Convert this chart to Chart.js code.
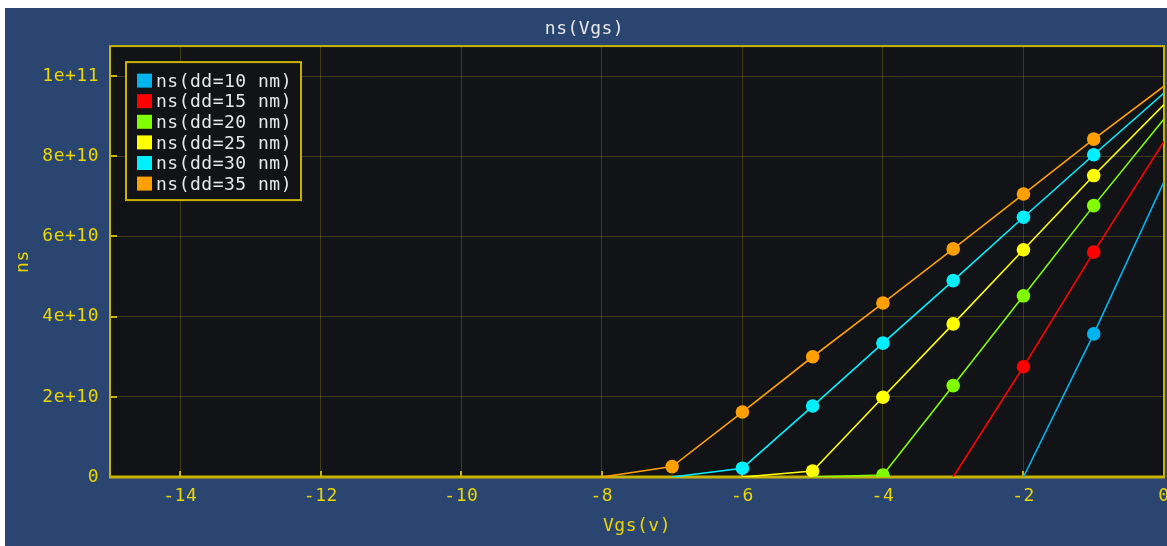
<!DOCTYPE html>
<html>
<head>
<meta charset="utf-8">
<title>ns(Vgs)</title>
<script src="https://cdn.jsdelivr.net/npm/chart.js@4/dist/chart.umd.min.js"></script>
<style>
  html, body { margin: 0; padding: 0; background: #ffffff; }
  #panel { position: absolute; left: 5px; top: 8px; width: 1162px; height: 538px; background: #2a4570; }
  canvas { display: block; }
</style>
</head>
<body>
<div id="panel"><canvas id="chart" width="1162" height="538"></canvas></div>
<script>
// Gate voltage samples (V) and sheet carrier density for each barrier thickness
const vgs   = [-8, -7, -6, -5, -4, -3, -2, -1, 0];
const ns10  = [null, null, null, null, null, null, 0, 3.57e10, 7.37e10];
const ns15  = [null, null, null, null, null, 0, 2.75e10, 5.61e10, 8.37e10];
const ns20  = [null, null, null, 0, 0.5e9, 2.28e10, 4.52e10, 6.77e10, 8.93e10];
const ns25  = [null, null, 0, 1.5e9, 1.99e10, 3.82e10, 5.67e10, 7.52e10, 9.29e10];
const ns30  = [null, 0, 2.2e9, 1.77e10, 3.34e10, 4.9e10, 6.48e10, 8.04e10, 9.58e10];
const ns35  = [0, 2.6e9, 1.62e10, 3.0e10, 4.34e10, 5.69e10, 7.06e10, 8.43e10, 9.75e10];

const seriesLabels = ['ns(dd=10 nm)', 'ns(dd=15 nm)', 'ns(dd=20 nm)', 'ns(dd=25 nm)', 'ns(dd=30 nm)', 'ns(dd=35 nm)'];
const seriesValues = [ns10, ns15, ns20, ns25, ns30, ns35];
const seriesColors = ['#00b4f0', '#ff0000', '#80ff00', '#ffff00', '#00f0ff', '#ffa000'];

const xTicks = [-14, -12, -10, -8, -6, -4, -2, 0];
const yTicks = [0, 2e10, 4e10, 6e10, 8e10, 1e11];

const FONT = "'DejaVu Sans Mono', 'Liberation Mono', monospace";
const FONT_SIZE = 18;
const TEXT_YELLOW = '#ecd600';
const FRAME_YELLOW = '#c8b400';
const PLOT_BG = '#121317';

const datasets = seriesValues.map((vals, i) => ({
  label: seriesLabels[i],
  data: vgs.map((x, k) => ({ x: x, y: vals[k] })).filter(p => p.y !== null),
  borderColor: seriesColors[i],
  backgroundColor: seriesColors[i],
  borderWidth: 1.6,
  pointBorderWidth: 0,
  pointRadius: c => (c.raw && (c.raw.y === 0 || c.raw.x === 0)) ? 0 : 6.8,
  tension: 0
}));

// monospace text spacing
const spacing = {
  id: 'spacing',
  beforeUpdate(chart) { chart.ctx.letterSpacing = '0.5px'; },
  beforeDraw(chart) { chart.ctx.letterSpacing = '0.5px'; }
};

// dark plotting field
const plotField = {
  id: 'plotField',
  beforeDraw(chart) {
    const a = chart.chartArea, ctx = chart.ctx;
    ctx.save();
    ctx.fillStyle = PLOT_BG;
    ctx.fillRect(a.left, a.top, a.right - a.left, a.bottom - a.top);
    ctx.restore();
  }
};

// frame and inward tick marks
const frame = {
  id: 'frame',
  beforeDatasetsDraw(chart) {
    const a = chart.chartArea, ctx = chart.ctx;
    const xs = chart.scales.x, ys = chart.scales.y;
    ctx.save();
    ctx.strokeStyle = FRAME_YELLOW;
    ctx.lineWidth = 2;
    ctx.strokeRect(a.left, a.top, a.right - a.left, a.bottom - a.top);
    ctx.lineWidth = 3;
    ctx.beginPath();
    ctx.moveTo(a.left - 1, a.bottom);
    ctx.lineTo(a.right + 1, a.bottom);
    ctx.stroke();
    ctx.lineWidth = 2;
    ctx.beginPath();
    xTicks.forEach(v => {
      const px = Math.round(xs.getPixelForValue(v));
      ctx.moveTo(px, a.bottom);
      ctx.lineTo(px, a.bottom - 6);
    });
    yTicks.forEach(v => {
      const py = Math.round(ys.getPixelForValue(v));
      ctx.moveTo(a.left, py);
      ctx.lineTo(a.left + 7, py);
    });
    ctx.stroke();
    ctx.restore();
  }
};

// boxed legend in the upper left of the plot
const boxLegend = {
  id: 'boxLegend',
  afterDraw(chart) {
    const a = chart.chartArea, ctx = chart.ctx;
    const bx = a.left + 16, by = a.top + 16, bw = 175, bh = 138;
    ctx.save();
    ctx.letterSpacing = '0.5px';
    ctx.fillStyle = PLOT_BG;
    ctx.fillRect(bx, by, bw, bh);
    ctx.strokeStyle = FRAME_YELLOW;
    ctx.lineWidth = 2;
    ctx.strokeRect(bx, by, bw, bh);
    ctx.font = FONT_SIZE + 'px ' + FONT;
    ctx.textBaseline = 'middle';
    ctx.textAlign = 'left';
    chart.data.datasets.forEach((ds, i) => {
      const cy = by + 18.5 + i * 20.6;
      ctx.fillStyle = ds.borderColor;
      ctx.fillRect(bx + 11, cy - 7, 15, 14);
      ctx.fillStyle = '#e8e8e8';
      ctx.fillText(ds.label, bx + 30, cy + 1.5);
    });
    ctx.restore();
  }
};

Chart.defaults.font.family = FONT;
Chart.defaults.font.size = FONT_SIZE;

new Chart(document.getElementById('chart'), {
  type: 'line',
  data: { datasets: datasets },
  plugins: [spacing, plotField, frame, boxLegend],
  options: {
    responsive: false,
    animation: false,
    events: [],
    layout: { padding: { left: 0, right: 3, top: 0, bottom: 0 } },
    plugins: {
      legend: { display: false },
      tooltip: { enabled: false },
      title: {
        display: true,
        text: 'ns(Vgs)',
        color: '#e8e8e8',
        font: { size: FONT_SIZE, weight: 'normal', family: FONT },
        padding: { top: 11, bottom: 5.5 }
      }
    },
    scales: {
      x: {
        type: 'linear',
        min: -15,
        max: 0,
        afterBuildTicks: s => { s.ticks = xTicks.map(v => ({ value: v })); },
        afterFit: s => { s.height = 69; s.paddingLeft = 0; s.paddingRight = 0; },
        grid: { color: 'rgba(200,180,0,0.25)', lineWidth: 1, drawTicks: false },
        border: { display: false },
        ticks: {
          color: TEXT_YELLOW,
          padding: 9,
          maxRotation: 0,
          font: { size: FONT_SIZE, family: FONT },
          callback: v => String(v)
        },
        title: {
          display: true,
          text: 'Vgs(v)',
          color: TEXT_YELLOW,
          font: { size: FONT_SIZE, family: FONT },
          padding: { top: 0, bottom: 9 }
        }
      },
      y: {
        type: 'linear',
        min: 0,
        max: 1.075e11,
        afterBuildTicks: s => { s.ticks = yTicks.map(v => ({ value: v })); },
        afterFit: s => { s.width = 105; s.paddingTop = 0; s.paddingBottom = 0; },
        grid: { color: 'rgba(200,180,0,0.25)', lineWidth: 1, drawTicks: false },
        border: { display: false },
        ticks: {
          color: TEXT_YELLOW,
          padding: 11,
          font: { size: FONT_SIZE, family: FONT },
          callback: v => v === 0 ? '0' : Number(v).toExponential()
        },
        title: {
          display: true,
          text: 'ns',
          color: TEXT_YELLOW,
          font: { size: FONT_SIZE, family: FONT },
          padding: { top: 8, bottom: 0 }
        }
      }
    }
  }
});
</script>
</body>
</html>
